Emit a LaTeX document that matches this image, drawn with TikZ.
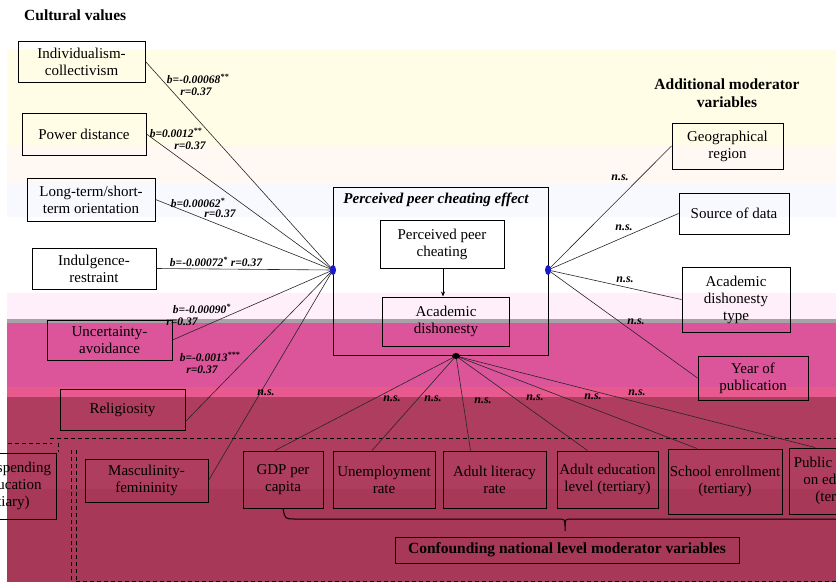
\documentclass[tikz,border=0pt]{standalone}
\usepackage{fontspec}
\setmainfont{Liberation Serif}
\usetikzlibrary{calc,arrows.meta}
\definecolor{bYellow}{HTML}{FFFDE6}
\definecolor{bPeach}{HTML}{FFF8F3}
\definecolor{bLav}{HTML}{F8F8FF}
\definecolor{bPink}{HTML}{FFEFFA}
\definecolor{bGray}{HTML}{A8A2A8}
\definecolor{bMag}{HTML}{DC559A}
\definecolor{bPinkB}{HTML}{E85A8E}
\definecolor{bRose}{HTML}{AE3D5F}
\definecolor{bRoseB}{HTML}{A73858}
\definecolor{dotblue}{HTML}{1A1AD0}
\begin{document}
\begin{tikzpicture}[x=1pt,y=-1pt,
  box/.style={draw=black,line width=1pt,inner sep=0pt,align=center,
    font=\fontsize{15}{17}\selectfont},
  lab/.style={font=\fontsize{11.5}{13}\selectfont\bfseries\itshape,inner sep=0pt},
  nslab/.style={font=\fontsize{12}{13}\selectfont\bfseries\itshape,inner sep=0pt},
  conn/.style={line width=0.6pt,draw=black!85},
  dsh/.style={line width=1pt,dash pattern=on 4pt off 3pt},
  ttl/.style={font=\fontsize{15.5}{18}\selectfont\bfseries,align=center,inner sep=0pt}]
\useasboundingbox (0,0) rectangle (836,582);
\clip (0,0) rectangle (836,582);
% background bands
\fill[bYellow] (7,50) rectangle (836,145);
\fill[bPeach] (7,145) rectangle (836,183);
\fill[bLav] (7,183) rectangle (836,217);
\fill[bPink] (7,293) rectangle (836,319);
\fill[bGray] (7,319) rectangle (836,323);
\fill[bMag] (7,323) rectangle (836,387);
\fill[bPinkB] (7,387) rectangle (836,397);
\fill[bRose] (7,397) rectangle (836,489);
\fill[bRoseB] (7,489) rectangle (836,582);

% titles
\node[ttl,anchor=west] (tcult) at (24,15) {Cultural values};
\node[ttl] (tadd) at (727,93) {Additional moderator\\variables};

% cultural value boxes
\node[box,minimum width=127pt,minimum height=41pt] (ind) at (81.5,61.5) {Individualism-\\collectivism};
\node[box,minimum width=124pt,minimum height=42pt] (pow) at (84,134) {Power distance};
\node[box,minimum width=128pt,minimum height=43pt] (lto) at (91,199.5) {Long-term/short-\\term orientation};
\node[box,minimum width=124pt,minimum height=41pt] (ivr) at (94,268.5) {Indulgence-\\restraint};
\node[box,minimum width=125pt,minimum height=40pt] (uai) at (109.5,340) {Uncertainty-\\avoidance};
\node[box,minimum width=125pt,minimum height=41pt] (rel) at (122.5,409.5) {Religiosity};
\node[box,minimum width=123pt,minimum height=43pt] (mas) at (146.5,480.5) {Masculinity-\\femininity};

% additional moderators
\node[box,minimum width=111pt,minimum height=46pt] (geo) at (727.5,146) {Geographical\\region};
\node[box,minimum width=110pt,minimum height=41pt] (src) at (734,213.5) {Source of data};
\node[box,minimum width=108pt,minimum height=65pt] (adt) at (736,299.5) {Academic\\dishonesty\\type};
\node[box,minimum width=110pt,minimum height=44pt] (yop) at (753,378) {Year of\\publication};

% central effect
\node[draw=black,line width=1pt,minimum width=215pt,minimum height=168pt,inner sep=0pt] (outer) at (440.5,271) {};
\node[font=\fontsize{15}{17}\selectfont\bfseries\itshape,inner sep=0pt] (tppc) at (436,200) {Perceived peer cheating effect};
\node[box,minimum width=124pt,minimum height=48pt] (ppc) at (442,244) {Perceived peer\\cheating};
\node[box,minimum width=127pt,minimum height=49pt] (ad) at (446,321.5) {Academic\\dishonesty};
\draw[line width=0.8pt,-{Stealth[length=5pt,width=4pt]}] ([xshift=1pt]ppc.south) -- ([xshift=1pt]ppc.south |- ad.north);

\coordinate (L) at (333,270);
\coordinate (R) at (548,270);
\coordinate (B) at (456,356);

% bottom moderators
\node[box,minimum width=80pt,minimum height=57pt] (gdp) at (283,479.5) {GDP per\\capita};
\node[box,minimum width=102pt,minimum height=57pt] (une) at (384,479.5) {Unemployment\\rate};
\node[box,minimum width=103pt,minimum height=57pt] (lit) at (494.5,479.5) {Adult literacy\\rate};
\node[box,minimum width=101pt,minimum height=57pt] (edu) at (607.5,479.5) {Adult education\\level (tertiary)};
\node[box,minimum width=114pt,minimum height=65pt] (sch) at (725,481.5) {School enrollment\\(tertiary)};
\node[box,minimum width=106pt,minimum height=66pt] (pub) at (842,481) {Public spending\\on education\\(tertiary)};
\node[box,minimum width=106pt,minimum height=66pt] (pubw) at (3,486) {Public spending\\on education\\(tertiary)};
\node[box,minimum width=344pt,minimum height=26pt,font=\fontsize{15.5}{17}\selectfont\bfseries] (conf) at (567,550) {Confounding national level moderator variables};

% dashed group frame
\draw[dsh] (50,438) -- (840,438);
\draw[dsh] (71,450) -- (71,590);
\draw[dsh] (76,450) -- (76,590);
\draw[dsh] (76,581) -- (840,581);
\draw[dsh] (8,443) -- (52,443);
\draw[dsh] (58,443) -- (58,452);

% brace
\draw[line width=1pt] (gdp.south) .. controls (285,519) .. (295,519) -- (557,519)
  .. controls (565,519) .. (565,526) -- (565,531);
\draw[line width=1pt] (565,526) .. controls (565,519) .. (573,519) -- (845,519);

% connectors from left junction
\draw[conn] (L) -- (ind.east);
\draw[conn] (L) -- (pow.east);
\draw[conn] (L) -- (lto.east);
\draw[conn] (L) -- (ivr.east);
\draw[conn] (L) -- (uai.east);
\draw[conn] (L) -- ([yshift=-12pt]rel.east);
\draw[conn] (L) -- (mas.east);
% right junction
\draw[conn] (R) -- (geo.west);
\draw[conn] (R) -- (src.west);
\draw[conn] (R) -- (adt.west);
\draw[conn] (R) -- (yop.west);
% bottom junction
\draw[conn] (B) -- ([xshift=-8pt]gdp.north);
\draw[conn] (B) -- ([xshift=-12pt]une.north);
\draw[conn] (B) -- ([xshift=-24pt]lit.north);
\draw[conn] (B) -- ([xshift=-20pt]edu.north);
\draw[conn] (B) -- ([xshift=-28pt]sch.north);
\draw[conn] (B) -- ([xshift=-27pt]pub.north);

\fill[dotblue] (L) ellipse [x radius=3pt, y radius=5pt];
\fill[dotblue] (R) ellipse [x radius=3pt, y radius=5pt];
\fill[black] (B) ellipse [x radius=4pt, y radius=3pt];

% labels
\node[lab] (l1b) at (198,79) {b=-0.00068\textsuperscript{**}};
\node[lab] (l1r) at (196,92) {r=0.37};
\node[lab] (l2b) at (176,133) {b=0.0012\textsuperscript{**}};
\node[lab] (l2r) at (190,146) {r=0.37};
\node[lab] (l3b) at (198,203) {b=0.00062\textsuperscript{*}};
\node[lab] (l3r) at (220,214) {r=0.37};
\node[lab] (l4) at (216,262) {b=-0.00072\textsuperscript{*} r=0.37};
\node[lab] (l5b) at (202,309) {b=-0.00090\textsuperscript{*}};
\node[lab] (l5r) at (182,322) {r=0.37};
\node[lab] (l6b) at (210,357) {b=-0.0013\textsuperscript{***}};
\node[lab] (l6r) at (202,370) {r=0.37};
\node[nslab] (n7) at (266,393) {n.s.};
\node[nslab] (ng) at (620,178) {n.s.};
\node[nslab] (ns) at (624,228) {n.s.};
\node[nslab] (na) at (625,280) {n.s.};
\node[nslab] (ny) at (636,322) {n.s.};
\node[nslab] (b1) at (392,399) {n.s.};
\node[nslab] (b2) at (433,399) {n.s.};
\node[nslab] (b3) at (483,401) {n.s.};
\node[nslab] (b4) at (535,398) {n.s.};
\node[nslab] (b5) at (593,397) {n.s.};
\node[nslab] (b6) at (637,393) {n.s.};
\end{tikzpicture}
\end{document}
